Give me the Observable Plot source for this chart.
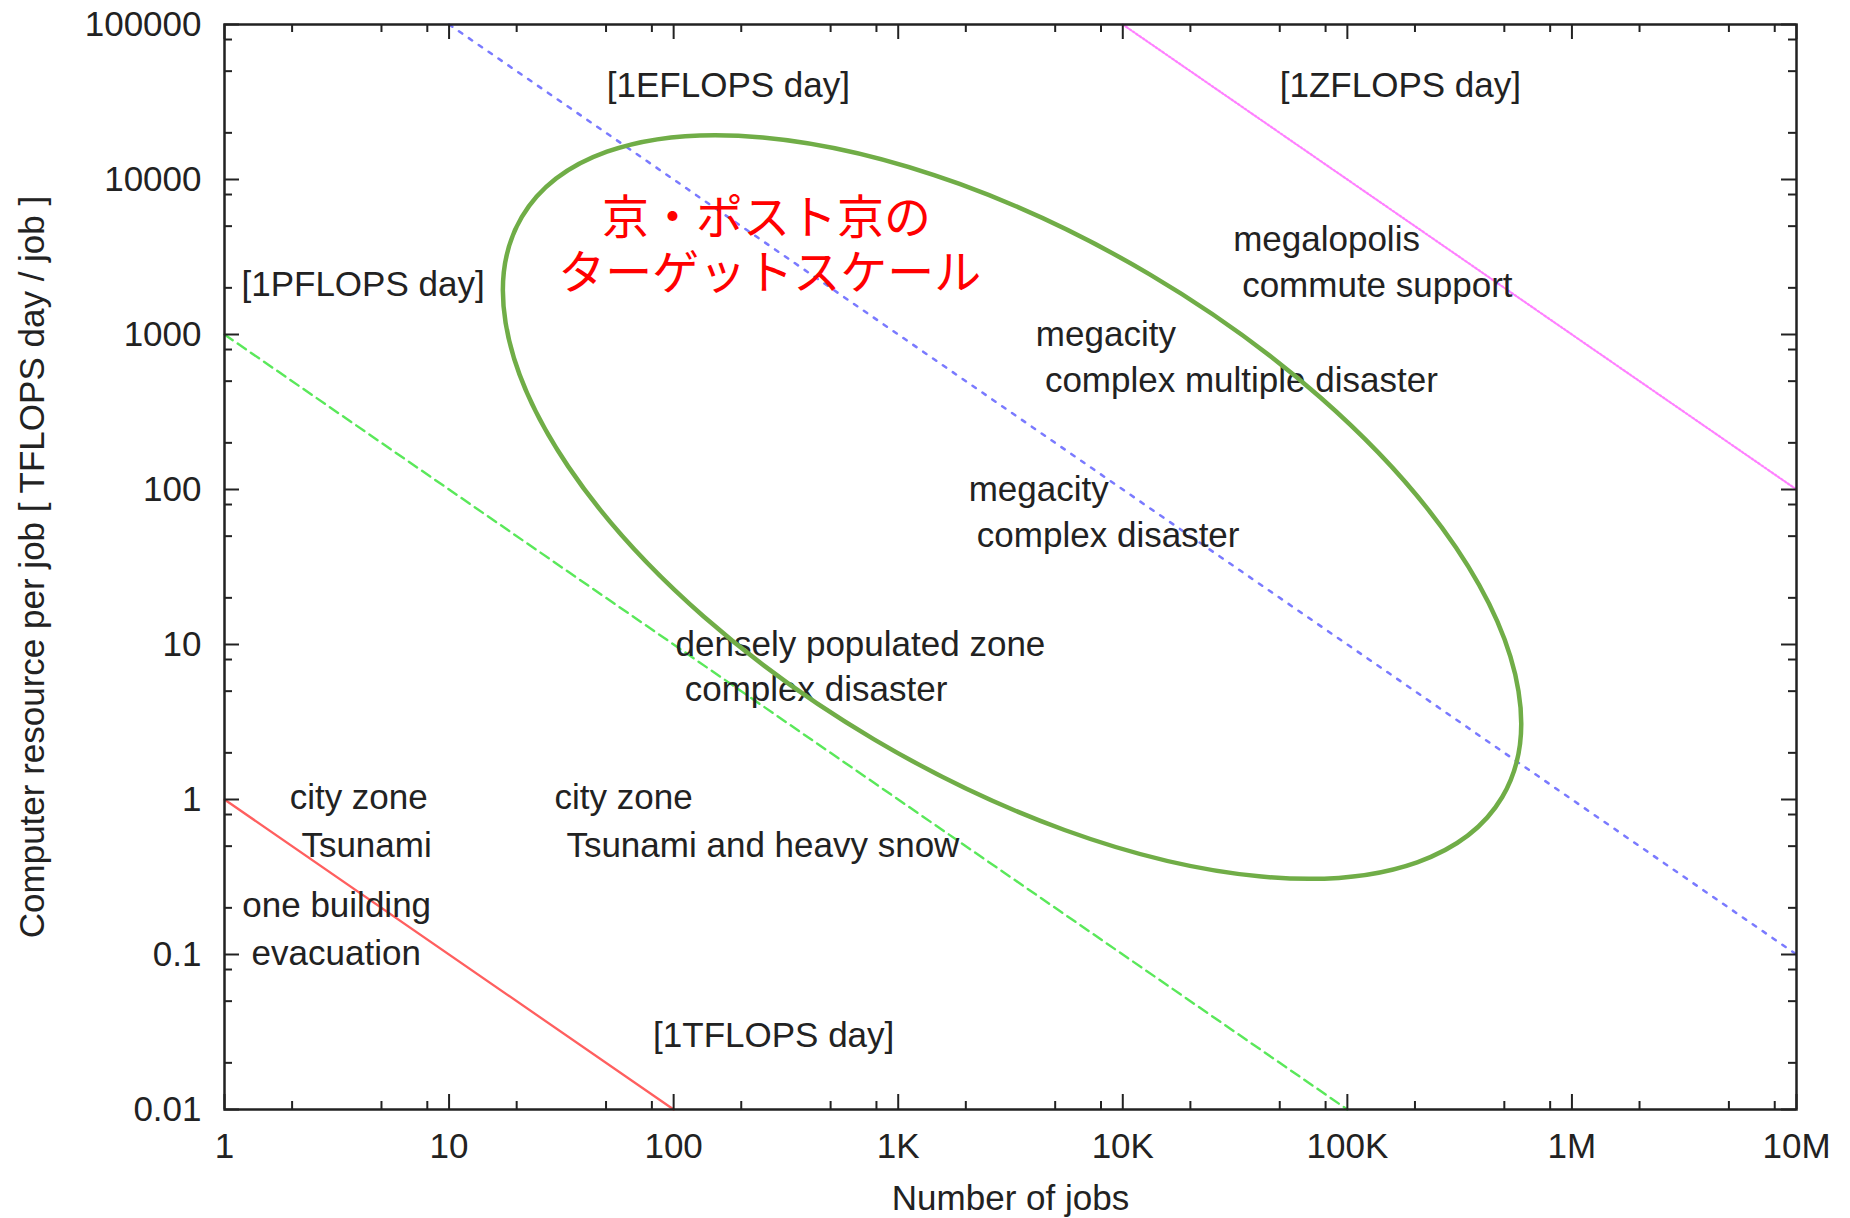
<!DOCTYPE html>
<html>
<head>
<meta charset="utf-8">
<script src="https://cdn.jsdelivr.net/npm/d3@7"></script>
<script src="https://cdn.jsdelivr.net/npm/@observablehq/plot@0.6"></script>
<style>
  html, body { margin: 0; padding: 0; background: #fff; }
</style>
</head>
<body>
<div id="chart"></div>
<script>
// Axis ticks
const xTicks = [1, 10, 100, 1000, 1e4, 1e5, 1e6, 1e7];
const xTickLabels = ["1", "10", "100", "1K", "10K", "100K", "1M", "10M"];
const xMinorTicks = [2, 5, 8, 20, 50, 80, 200, 500, 800, 2000, 5000, 8000,
  2e4, 5e4, 8e4, 2e5, 5e5, 8e5, 2e6, 5e6, 8e6];
const yTicks = [0.01, 0.1, 1, 10, 100, 1000, 10000, 100000];
const yTickLabels = ["0.01", "0.1", "1", "10", "100", "1000", "10000", "100000"];
const yMinorTicks = [0.02, 0.05, 0.08, 0.2, 0.5, 0.8, 2, 5, 8, 20, 50, 80,
  200, 500, 800, 2000, 5000, 8000, 2e4, 5e4, 8e4];
const xTitle = "Number of jobs";
const yTitle = "Computer resource per job [ TFLOPS day / job ]";

// Constant-total lines: [1TFLOPS day], [1PFLOPS day], [1EFLOPS day], [1ZFLOPS day]
const tflopsX = [1, 100];
const tflopsY = [1, 0.01];
const pflopsX = [1, 1e5];
const pflopsY = [1000, 0.01];
const eflopsX = [10, 1e7];
const eflopsY = [1e5, 0.1];
const zflopsX = [1e4, 1e7];
const zflopsY = [1e5, 100];

// Line labels
const flopsLabel = ["[1TFLOPS day]", "[1PFLOPS day]", "[1EFLOPS day]", "[1ZFLOPS day]"];
const flopsLabelX = [81, 1.19, 50.4, 50000];
const flopsLabelY = [0.03, 2100, 40400, 40400];

// Application annotations
const annotationText = ["megalopolis", "commute support", "megacity", "complex multiple disaster",
  "megacity", "complex disaster", "densely populated zone", "complex disaster",
  "city zone", "Tsunami", "city zone", "Tsunami and heavy snow", "one building", "evacuation"];
const annotationX = [31000, 34000, 4100, 4500, 2060, 2240, 102, 112, 1.95, 2.2, 29.5, 33.3, 1.2, 1.32];
const annotationY = [4070, 2060, 1000, 505, 100, 50, 10, 5.1, 1.02, 0.5, 1.02, 0.5, 0.207, 0.101];

// Target-scale region (ellipse): major axis end points, minor/major ratio
const targetText = ["京・ポスト京の", "ターゲットスケール"];
const targetX = [259, 268];
const targetY = [5580, 2450];
const ellipseAxisX = [21.2, 492000];
const ellipseAxisY = [5690, 1.03];
const ellipseRatio = 0.4745;

const W = 1850, H = 1218;
const mL = 224, mR = 54, mT = 24, mB = 109;
const plotW = W - mL - mR, plotH = H - mT - mB;
const ink = "#222";
const font = "'Liberation Sans', Arial, Helvetica, sans-serif";

const xLab = new Map(xTicks.map((t, i) => [t, xTickLabels[i]]));
const yLab = new Map(yTicks.map((t, i) => [t, yTickLabels[i]]));

function ellipseMark(index, scales) {
  const x1 = scales.x(ellipseAxisX[0]), y1 = scales.y(ellipseAxisY[0]);
  const x2 = scales.x(ellipseAxisX[1]), y2 = scales.y(ellipseAxisY[1]);
  const cx = (x1 + x2) / 2, cy = (y1 + y2) / 2;
  const rx = Math.hypot(x2 - x1, y2 - y1) / 2;
  const ry = rx * ellipseRatio;
  const ang = Math.atan2(y2 - y1, x2 - x1) * 180 / Math.PI;
  const el = document.createElementNS("http://www.w3.org/2000/svg", "ellipse");
  el.setAttribute("cx", 0);
  el.setAttribute("cy", 0);
  el.setAttribute("rx", rx);
  el.setAttribute("ry", ry);
  el.setAttribute("transform", `translate(${cx},${cy}) rotate(${ang})`);
  el.setAttribute("fill", "none");
  el.setAttribute("stroke", "#70ad47");
  el.setAttribute("stroke-width", 4.5);
  return el;
}

const chart = Plot.plot({
  width: W,
  height: H,
  marginLeft: mL,
  marginRight: mR,
  marginTop: mT,
  marginBottom: mB,
  style: { fontFamily: font, fontSize: "35px", color: ink, background: "#fff" },
  x: { type: "log", domain: [1, 1e7] },
  y: { type: "log", domain: [0.01, 1e5] },
  marks: [
    // lines
    Plot.line(tflopsX, { x: tflopsX, y: tflopsY, stroke: "#ff5f5f", strokeWidth: 2.3 }),
    Plot.line(pflopsX, { x: pflopsX, y: pflopsY, stroke: "#5ae85a", strokeWidth: 2.4, strokeDasharray: "10,6" }),
    Plot.line(eflopsX, { x: eflopsX, y: eflopsY, stroke: "#7a7aff", strokeWidth: 2.5, strokeDasharray: "4,8" }),
    Plot.line(zflopsX, { x: zflopsX, y: zflopsY, stroke: "#ff80ff", strokeWidth: 2.2, strokeDasharray: "2,2" }),
    // frame & ticks (inward, mirrored)
    Plot.frame({ stroke: ink, strokeWidth: 2.5 }),
    Plot.tickX(xTicks, { x: d => d, insetTop: plotH - 15, stroke: ink, strokeWidth: 2 }),
    Plot.tickX(xTicks, { x: d => d, insetBottom: plotH - 15, stroke: ink, strokeWidth: 2 }),
    Plot.tickX(xMinorTicks, { x: d => d, insetTop: plotH - 8, stroke: ink, strokeWidth: 2 }),
    Plot.tickX(xMinorTicks, { x: d => d, insetBottom: plotH - 8, stroke: ink, strokeWidth: 2 }),
    Plot.tickY(yTicks, { y: d => d, insetRight: plotW - 15, stroke: ink, strokeWidth: 2 }),
    Plot.tickY(yTicks, { y: d => d, insetLeft: plotW - 15, stroke: ink, strokeWidth: 2 }),
    Plot.tickY(yMinorTicks, { y: d => d, insetRight: plotW - 8, stroke: ink, strokeWidth: 2 }),
    Plot.tickY(yMinorTicks, { y: d => d, insetLeft: plotW - 8, stroke: ink, strokeWidth: 2 }),
    // tick labels
    Plot.axisX(xTicks, {
      anchor: "bottom", tickSize: 0, tickPadding: 24, tickFormat: d => xLab.get(d),
      fill: ink, label: null
    }),
    Plot.axisY(yTicks, {
      anchor: "left", tickSize: 0, tickPadding: 23, tickFormat: d => yLab.get(d),
      fill: ink, label: null
    }),
    // axis titles
    Plot.text([xTitle], { frameAnchor: "bottom", text: d => d, dy: 89, textAnchor: "middle", lineAnchor: "middle", fontSize: 35, fill: ink }),
    Plot.text([yTitle], { frameAnchor: "left", text: d => d, dx: -192, rotate: -90, textAnchor: "middle", lineAnchor: "middle", fontSize: 35, fill: ink }),
    // text labels
    Plot.text(flopsLabel, { x: flopsLabelX, y: flopsLabelY, text: flopsLabel, textAnchor: "start", lineAnchor: "middle", fontSize: 35, fill: ink }),
    Plot.text(annotationText, { x: annotationX, y: annotationY, text: annotationText, textAnchor: "start", lineAnchor: "middle", fontSize: 35, fill: ink }),
    // target region
    ellipseMark,
    Plot.text(targetText, { x: targetX, y: targetY, text: targetText, textAnchor: "middle", lineAnchor: "middle", fontSize: 47, fill: "#ff0000", fontFamily: "'Noto Sans CJK JP', sans-serif" })
  ]
});

document.getElementById("chart").appendChild(chart);
</script>
</body>
</html>
